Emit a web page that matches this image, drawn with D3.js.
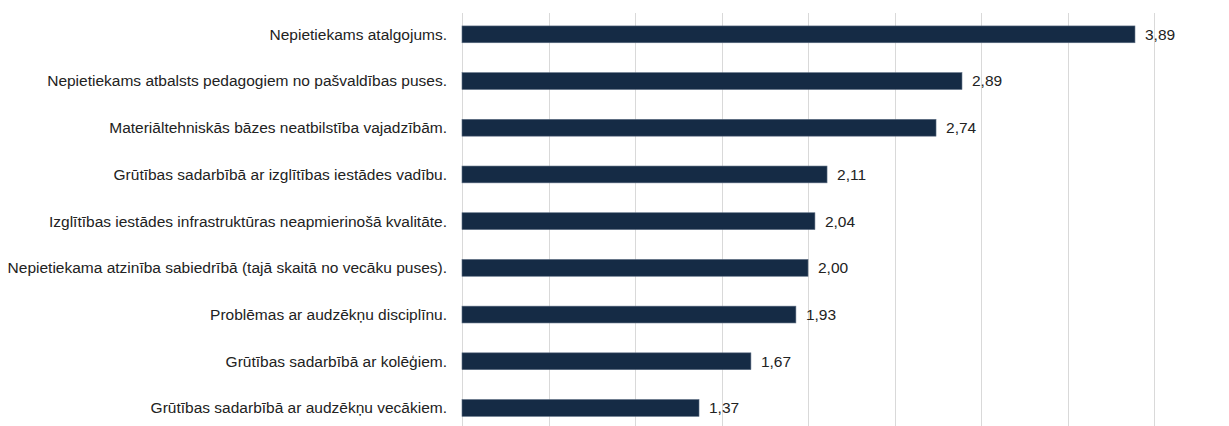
<!DOCTYPE html>
<html>
<head>
<meta charset="utf-8">
<script src="https://cdn.jsdelivr.net/npm/d3@7"></script>
<style>
  body { margin: 0; background: #fff; }
  text { font-family: "Liberation Sans", Arial, sans-serif; }
</style>
</head>
<body>
<svg id="chart" width="1229" height="426"></svg>
<script>
var categories = [
  "Nepietiekams atalgojums.",
  "Nepietiekams atbalsts pedagogiem no pašvaldības puses.",
  "Materiāltehniskās bāzes neatbilstība vajadzībām.",
  "Grūtības sadarbībā ar izglītības iestādes vadību.",
  "Izglītības iestādes infrastruktūras neapmierinošā kvalitāte.",
  "Nepietiekama atzinība sabiedrībā (tajā skaitā no vecāku puses).",
  "Problēmas ar audzēkņu disciplīnu.",
  "Grūtības sadarbībā ar kolēģiem.",
  "Grūtības sadarbībā ar audzēkņu vecākiem."
];
var values = [3.89, 2.89, 2.74, 2.11, 2.04, 2.00, 1.93, 1.67, 1.37];
var gridTicks = [0, 0.5, 1, 1.5, 2, 2.5, 3, 3.5, 4];

var svg = d3.select("#chart"),
    margin = {top: 11, left: 462, right: 75},
    width = +svg.attr("width") - margin.left - margin.right;

var x = d3.scaleLinear()
    .domain([0, 4])
    .range([0, width]);

var y = d3.scaleBand()
    .domain(categories)
    .range([0, 46.7 * categories.length])
    .paddingInner(0.64)
    .paddingOuter(0.32);

var g = svg.append("g")
    .attr("transform", "translate(" + margin.left + "," + margin.top + ")");

// vertical gridlines
g.append("g")
    .attr("class", "grid")
  .selectAll("line")
  .data(gridTicks)
  .enter().append("line")
    .attr("x1", function(d) { return Math.round(x(d)) + 0.5; })
    .attr("x2", function(d) { return Math.round(x(d)) + 0.5; })
    .attr("y1", 2)
    .attr("y2", 426)
    .attr("stroke", "#d9d9d9")
    .attr("stroke-width", 1);

g.selectAll(".bar")
  .data(values)
  .enter().append("rect")
    .attr("class", "bar")
    .attr("x", 0)
    .attr("y", function(d, i) { return y(categories[i]); })
    .attr("width", function(d) { return x(d); })
    .attr("height", y.bandwidth())
    .attr("fill", "#152b45")
    .attr("stroke", "#5a6b80")
    .attr("stroke-width", 0.6);

// category labels
g.selectAll(".cat")
  .data(categories)
  .enter().append("text")
    .attr("class", "cat")
    .attr("x", -15)
    .attr("y", function(d) { return y(d) + y.bandwidth() / 2; })
    .attr("dy", "0.35em")
    .attr("text-anchor", "end")
    .attr("font-size", 15.5)
    .attr("fill", "#222")
    .text(function(d) { return d; });

// value labels
g.selectAll(".val")
  .data(values)
  .enter().append("text")
    .attr("class", "val")
    .attr("x", function(d) { return x(d) + 10; })
    .attr("y", function(d, i) { return y(categories[i]) + y.bandwidth() / 2; })
    .attr("dy", "0.35em")
    .attr("font-size", 15.5)
    .attr("fill", "#222")
    .text(function(d) { return d3.format(".2f")(d).replace(".", ","); });
</script>
</body>
</html>
